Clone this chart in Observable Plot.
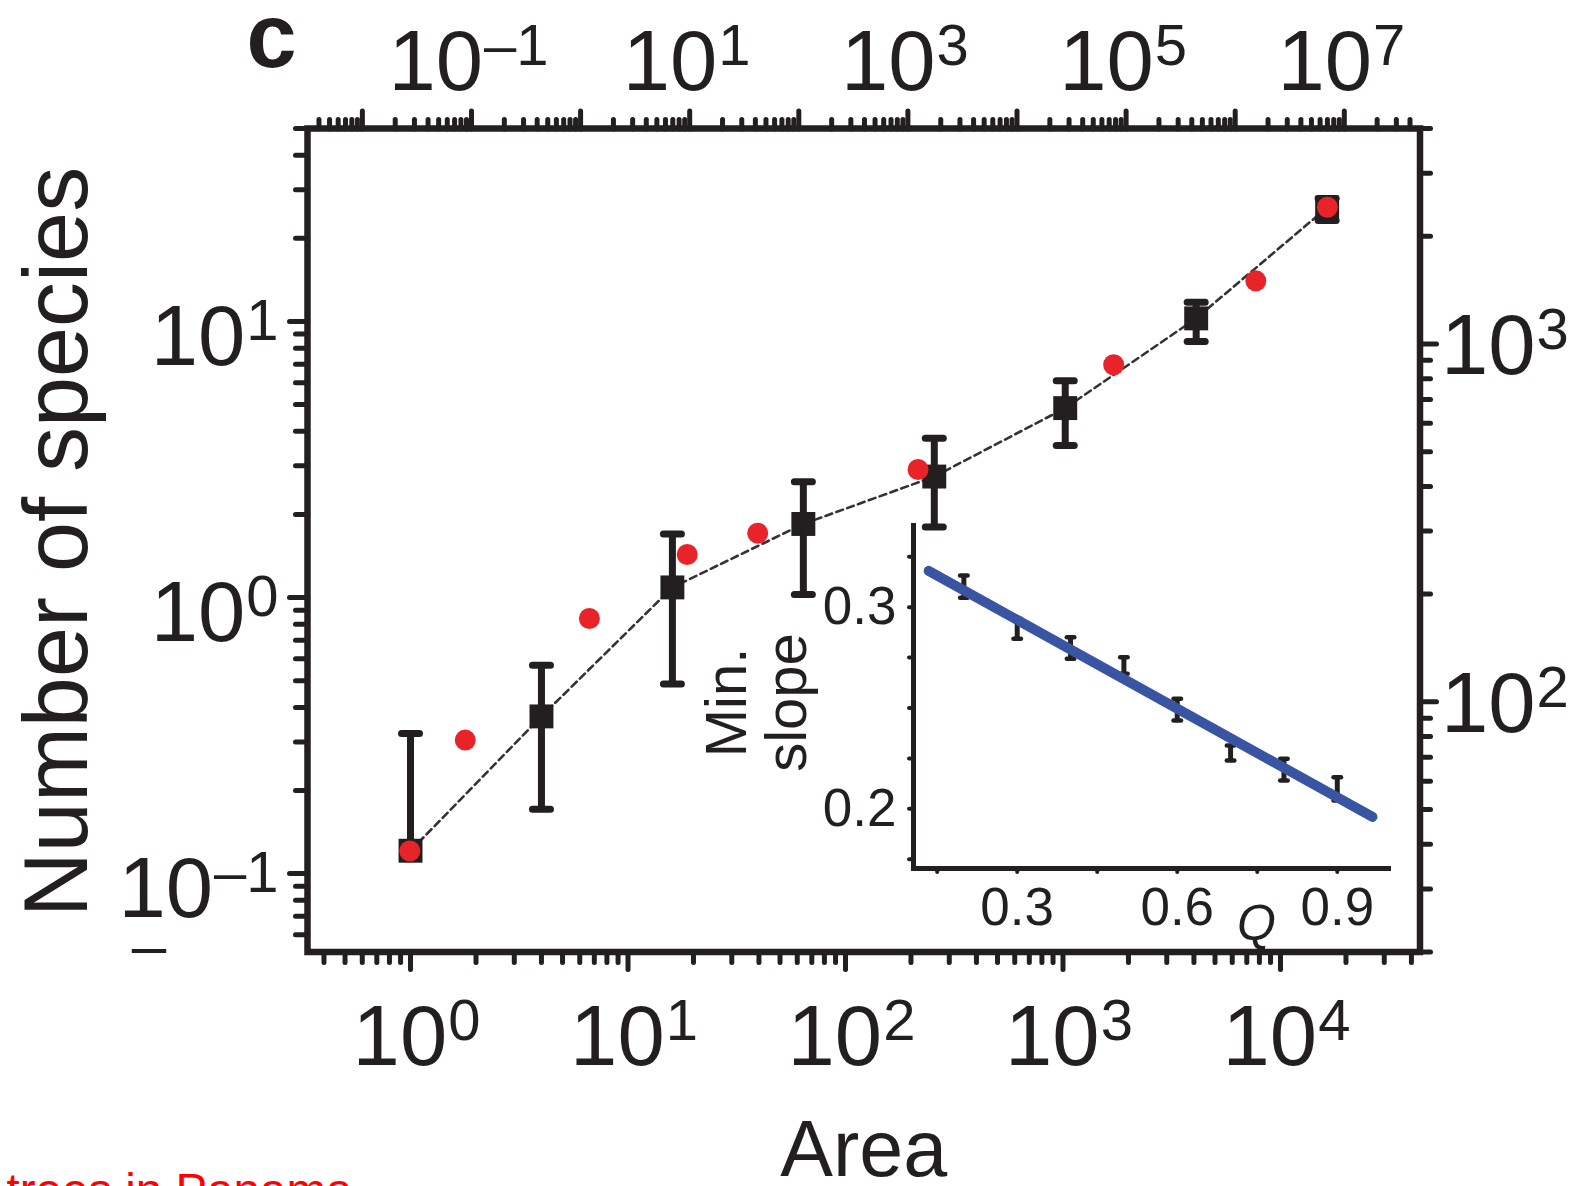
<!DOCTYPE html>
<html>
<head>
<meta charset="utf-8">
<script src="https://cdn.jsdelivr.net/npm/d3@7"></script>
<script src="https://cdn.jsdelivr.net/npm/@observablehq/plot@0.6"></script>
<style>
html, body { margin: 0; padding: 0; overflow: hidden; background: #fff; }
#wrap { position: relative; width: 1581px; height: 1186px; }
#wrap svg { position: absolute; left: 0; top: 0; }
</style>
</head>
<body>
<div id="wrap"></div>
<script>
// ---------- DATA ----------
// Main panel (bottom "Area" axis, left "Number of species" axis): black squares with error bars
const area = [1, 4, 16, 64, 256, 1024, 4096, 16384];
const species = [0.121, 0.371, 1.088, 1.847, 2.743, 4.855, 10.26, 25.86];
const speciesLo = [null, 0.171, 0.486, 1.025, 1.801, 3.557, 8.457, 23.19];
const speciesHi = [0.3215, 0.569, 1.698, 2.629, 3.774, 6.095, 11.74, 27.91];

// Trees in Panama (red dots), read against the top and right axes
const panamaArea = [0.0272, 0.0877, 1.204, 9.49, 42, 1239, 76900, 1.545e6, 7.0e6];
const panamaSpecies = [38.3, 78.2, 171, 258, 296, 446, 875, 1501, 2410];

// Inset: minimum slope vs Q
const insetQ = [0.2, 0.3, 0.4, 0.5, 0.6, 0.7, 0.8, 0.9];
const insetLo = [0.3047, 0.2843, 0.2744, 0.2670, 0.2438, 0.2240, 0.2141, 0.2041];
const insetHi = [0.3157, 0.2942, 0.2851, 0.2752, 0.2546, 0.2314, 0.2248, 0.2157];
const fitQ = [0.134, 0.966];
const fitSlope = [0.318, 0.196];

// Tick values / labels
const bottomMajor = [1, 10, 100, 1000, 10000];
const leftMajor = [0.1, 1, 10];
const topMajor = [0.01, 0.1, 1, 10, 100, 1000, 1e4, 1e5, 1e6, 1e7];
const topLabeled = [0.1, 10, 1000, 1e5, 1e7];
const rightMajor = [100, 1000];
const minorMultiples = [2, 3, 4, 5, 6, 7, 8, 9];
const insetQTicks = [0.15, 0.3, 0.45, 0.6, 0.75, 0.9];
const insetQLabeled = [0.3, 0.6, 0.9];
const insetSlopeTicks = [0.175, 0.2, 0.225, 0.25, 0.275, 0.3, 0.325];
const insetSlopeLabeled = [0.2, 0.3];

const texts = {
  panel: "c",
  xLabel: "Area",
  yLabel: "Number of species",
  insetY: "Min.\nslope",
  insetX: "Q",
  caption: "trees in Panama",
  stray: "–"
};

// ---------- SETUP ----------
const W = 1581, H = 1186;
const INK = "#231f20";
const RED = "#e8232a";
const BLUE = "#3a54a4";
const FONT = "'Liberation Sans', Arial, Helvetica, sans-serif";
const box = {marginLeft: 307, marginRight: W - 1419.5, marginTop: 128, marginBottom: H - 951.5};

const simRows = area.map((a, i) => ({area: a, species: species[i], lo: speciesLo[i], hi: speciesHi[i]}));
const panamaRows = panamaArea.map((a, i) => ({area: panamaArea[i], species: panamaSpecies[i]}));
const insetRows = insetQ.map((q, i) => ({q, lo: insetLo[i], hi: insetHi[i]}));
const fitRows = fitQ.map((q, i) => ({q, s: fitSlope[i]}));

// minor log ticks (2..9 × 10^e) inside a domain
function minorTicks([lo, hi]) {
  const out = [];
  for (let e = Math.floor(Math.log10(lo)); e <= Math.ceil(Math.log10(hi)); e++) {
    for (const k of minorMultiples) {
      const t = +(k * Math.pow(10, e)).toPrecision(6);
      if (t >= lo && t <= hi) out.push(t);
    }
  }
  return out;
}
const pow10 = d => "10^" + Math.round(Math.log10(d));

function capSymbol(w, h) {
  return {
    draw(ctx) {
      const r = h / 2, a = w / 2 - r;
      ctx.moveTo(-a, -r);
      ctx.lineTo(a, -r);
      ctx.arc(a, 0, r, -Math.PI / 2, Math.PI / 2);
      ctx.lineTo(-a, r);
      ctx.arc(-a, 0, r, Math.PI / 2, 3 * Math.PI / 2);
      ctx.closePath();
    }
  };
}

const tickStyle = {fill: "none", stroke: INK, strokeWidth: 5, strokeLinecap: "round", label: null};

const xDomain = [0.336, 43800];
const yDomain = [0.052, 50];
const topDomain = [0.00314, 4.94e7];
const rightDomain = [20, 4000];

// ---------- MAIN PANEL ----------
const main = Plot.plot({
  width: W, height: H, ...box,
  style: {fontFamily: FONT, color: INK, background: "white", overflow: "visible"},
  x: {type: "log", domain: xDomain, label: null},
  y: {type: "log", domain: yDomain, label: null},
  marks: [
    Plot.axisX({ticks: minorTicks(xDomain), tickSize: 11, ...tickStyle}),
    Plot.axisX({ticks: bottomMajor, tickSize: 18, ...tickStyle}),
    Plot.axisX({ticks: bottomMajor, tickSize: 0, tickPadding: 53, tickFormat: pow10, fontSize: 85, dx: 6, stroke: "none", fill: INK, label: null}),
    Plot.axisY({ticks: minorTicks(yDomain), tickSize: 11.5, ...tickStyle}),
    Plot.axisY({ticks: leftMajor, tickSize: 17.5, ...tickStyle}),
    Plot.axisY({ticks: leftMajor, tickSize: 0, tickPadding: 29, tickFormat: pow10, fontSize: 85, dy: 16.5, stroke: "none", fill: INK, label: null}),
    Plot.frame({stroke: INK, strokeWidth: 6.5}),
    Plot.line(simRows, {x: "area", y: "species", stroke: "#333", strokeWidth: 2.6, strokeDasharray: "7,4.5"}),
    Plot.ruleX(simRows, {x: "area", y1: d => d.lo ?? d.species, y2: "hi", stroke: INK, strokeWidth: 7}),
    Plot.dot(simRows.filter(d => d.lo != null), {x: "area", y: "lo", symbol: capSymbol(25, 7), fill: INK, stroke: "none"}),
    Plot.dot(simRows, {x: "area", y: "hi", symbol: capSymbol(25, 7), fill: INK, stroke: "none"}),
    Plot.dot(simRows, {x: "area", y: "species", symbol: "square", r: 13.5, fill: INK, stroke: "none"}),
    Plot.text([texts.yLabel], {text: d => d, frameAnchor: "left", textAnchor: "middle", lineAnchor: "middle", rotate: -90, fontSize: 90, dx: -249.8, dy: 1.75, fill: INK}),
    Plot.text([texts.xLabel], {text: d => d, frameAnchor: "bottom", textAnchor: "middle", lineAnchor: "middle", fontSize: 79, dy: 199, fill: INK}),
    Plot.text([texts.panel], {text: d => d, frameAnchor: "top-left", textAnchor: "start", lineAnchor: "middle", fontSize: 90, fontWeight: "bold", dx: -61, dy: -90.8, fill: INK}),
    Plot.text([texts.stray], {text: d => d, frameAnchor: "bottom-left", textAnchor: "middle", lineAnchor: "middle", fontSize: 62, dx: -158.5, dy: -5, fill: INK})
  ]
});

// ---------- SECONDARY AXES (top / right) + Panama trees ----------
const over = Plot.plot({
  width: W, height: H, ...box,
  style: {fontFamily: FONT, color: INK, background: "transparent", overflow: "visible"},
  x: {type: "log", domain: topDomain, label: null},
  y: {type: "log", domain: rightDomain, label: null},
  marks: [
    Plot.axisX({anchor: "top", ticks: minorTicks(topDomain), tickSize: 9.5, ...tickStyle}),
    Plot.axisX({anchor: "top", ticks: topMajor, tickSize: 18, ...tickStyle}),
    Plot.axisX({anchor: "top", ticks: topLabeled, tickSize: 0, tickPadding: 39, tickFormat: pow10, fontSize: 85, dx: -3, stroke: "none", fill: INK, label: null}),
    Plot.axisY({anchor: "right", ticks: minorTicks(rightDomain), tickSize: 10, ...tickStyle}),
    Plot.axisY({anchor: "right", ticks: rightMajor, tickSize: 16, ...tickStyle}),
    Plot.axisY({anchor: "right", ticks: rightMajor, tickSize: 0, tickPadding: 21, tickFormat: pow10, fontSize: 85, dy: 3, stroke: "none", fill: INK, label: null}),
    Plot.dot(panamaRows, {x: "area", y: "species", r: 10.5, fill: RED, stroke: "none"}),
    Plot.text([texts.caption], {text: d => d, frameAnchor: "bottom-left", textAnchor: "start", lineAnchor: "middle", fontSize: 47.5, fill: "#ff0000", dx: -301, dy: 240})
  ]
});

// ---------- INSET ----------
const inset = Plot.plot({
  width: W, height: H,
  marginLeft: 913, marginRight: W - 1388, marginTop: 525, marginBottom: H - 868,
  style: {fontFamily: FONT, color: INK, background: "transparent", overflow: "visible"},
  x: {domain: [0.1056, 0.996], label: null},
  y: {domain: [0.1704, 0.3405], label: null},
  marks: [
    Plot.axisX({ticks: insetQTicks, tickSize: 4, ...tickStyle, strokeWidth: 4}),
    Plot.axisX({ticks: insetQLabeled, tickSize: 0, tickPadding: 18.7, tickFormat: d => d.toFixed(1), fontSize: 53, stroke: "none", fill: INK, label: null}),
    Plot.axisY({ticks: insetSlopeTicks, tickSize: 4, ...tickStyle, strokeWidth: 4}),
    Plot.axisY({ticks: insetSlopeLabeled, tickSize: 0, tickPadding: 17, tickFormat: d => d.toFixed(1), fontSize: 53, stroke: "none", fill: INK, label: null}),
    Plot.frame({anchor: "left", stroke: INK, strokeWidth: 5, strokeLinecap: "square"}),
    Plot.frame({anchor: "bottom", stroke: INK, strokeWidth: 5, strokeLinecap: "square"}),
    Plot.ruleX(insetRows, {x: "q", y1: "lo", y2: "hi", stroke: INK, strokeWidth: 5}),
    Plot.dot(insetRows, {x: "q", y: "lo", symbol: capSymbol(12, 4.5), fill: INK, stroke: "none"}),
    Plot.dot(insetRows, {x: "q", y: "hi", symbol: capSymbol(12, 4.5), fill: INK, stroke: "none"}),
    Plot.line(fitRows, {x: "q", y: "s", stroke: BLUE, strokeWidth: 10, strokeLinecap: "round"}),
    Plot.text([texts.insetY], {text: d => d, frameAnchor: "left", textAnchor: "middle", lineAnchor: "middle", rotate: -90, fontSize: 58, lineHeight: 1.05, dx: -157, dy: 5.5, fill: INK}),
    Plot.text([texts.insetX], {text: d => d, frameAnchor: "bottom", textAnchor: "middle", lineAnchor: "bottom", fontSize: 50, fontStyle: "italic", dx: 105.5, dy: 71, fill: INK})
  ]
});

// ---------- Superscript tick labels ----------
function superscriptify(svg) {
  d3.select(svg).selectAll("text").each(function () {
    const m = /^10\^(-?\d+)$/.exec(this.textContent);
    if (!m) return;
    const exp = m[1].replace("-", "–");
    this.textContent = "";
    const sel = d3.select(this);
    sel.append("tspan").text("10");
    sel.append("tspan").attr("dx", 1).attr("dy", -25).attr("font-size", 58).text(exp);
  });
}
superscriptify(main);
superscriptify(over);

const wrap = document.getElementById("wrap");
wrap.appendChild(main);
wrap.appendChild(over);
wrap.appendChild(inset);
</script>
</body>
</html>
